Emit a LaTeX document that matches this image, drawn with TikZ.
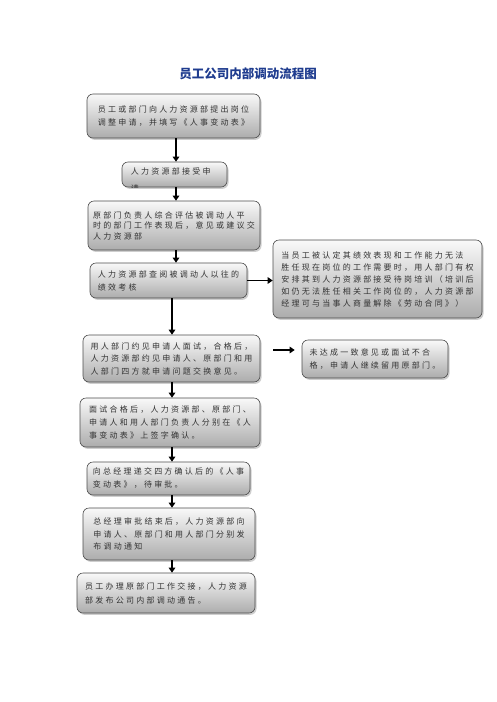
\documentclass[tikz,border=0pt]{standalone}
\usepackage{fontspec}
\newfontfamily\cjk[LetterSpace=28]{Noto Sans CJK SC}
\newfontfamily\cjktitle{Noto Sans CJK SC}
\usetikzlibrary{shadows,arrows.meta,calc}
\definecolor{titleblue}{HTML}{1F3C8F}
\definecolor{txtgray}{HTML}{333333}
\begin{document}
\begin{tikzpicture}[x=1pt,y=-1pt,
  box/.style={rounded corners=6pt, draw=gray!60!black, line width=0.6pt,
    top color=gray!5, bottom color=gray!65,
    drop shadow={shadow xshift=1.5pt,shadow yshift=-1.8pt,fill=gray!55,opacity=0.7},
    inner sep=0pt, align=left, font=\cjk\fontsize{8}{13}\selectfont, text=txtgray},
  arr/.style={line width=1.6pt, -{Triangle[width=6.5pt,length=5pt]}}]
\useasboundingbox (0,0) rectangle (496,702);

\node[font=\cjktitle\bfseries\fontsize{12.5}{14}\selectfont, text=titleblue] (title) at (248,74) {员工公司内部调动流程图};

\node[box, minimum width=173pt, minimum height=44pt] (b1) at (173.5,116)
  {员工或部门向人力资源部提出岗位\\调整申请，并填写《人事变动表》};

\node[box, minimum width=105pt, minimum height=25pt] (b2) at (174.5,174.5) {};
\begin{scope}
  \clip[rounded corners=6pt] (b2.south west) rectangle (b2.north east);
  \node[anchor=north west, inner sep=0pt, align=left, font=\cjk\fontsize{8}{17}\selectfont, text=txtgray] (b2t) at ($(b2.north west)+(9,6)$) {人力资源部接受申\\请};
\end{scope}

\node[box, minimum width=172pt, minimum height=49pt, font=\cjk\fontsize{8}{10.5}\selectfont] (b3) at (174,225.5)
  {原部门负责人综合评估被调动人平\\时的部门工作表现后，意见或建议交\\人力资源部};

\node[box, minimum width=157pt, minimum height=35pt] (b4) at (168.5,280.5)
  {人力资源部查阅被调动人以往的\\绩效考核};

\node[box, minimum width=209pt, minimum height=78pt, font=\cjk\fontsize{8}{12}\selectfont] (bR) at (377.5,279)
  {当员工被认定其绩效表现和工作能力无法\\胜任现在岗位的工作需要时，用人部门有权\\安排其到人力资源部接受待岗培训（培训后\\如仍无法胜任相关工作岗位的，人力资源部\\经理可与当事人商量解除《劳动合同》）};

\node[box, minimum width=177pt, minimum height=47pt, font=\cjk\fontsize{8}{12.5}\selectfont] (b5) at (171.5,358.5)
  {用人部门约见申请人面试，合格后，\\人力资源部约见申请人、原部门和用\\人部门四方就申请问题交换意见。};

\node[box, minimum width=146pt, minimum height=38pt] (b6) at (375,359)
  {未达成一致意见或面试不合\\格，申请人继续留用原部门。};

\node[box, minimum width=180pt, minimum height=49pt] (b7) at (170,422.5)
  {面试合格后，人力资源部、原部门、\\申请人和用人部门负责人分别在《人\\事变动表》上签字确认。};

\node[box, minimum width=163pt, minimum height=33pt] (b8) at (168.5,478.5)
  {向总经理递交四方确认后的《人事\\变动表》，待审批。};

\node[box, minimum width=172pt, minimum height=52pt, font=\cjk\fontsize{8}{12.5}\selectfont] (b9) at (169,534)
  {总经理审批结束后，人力资源部向\\申请人、原部门和用人部门分别发\\布调动通知};

\node[box, minimum width=178pt, minimum height=40pt, font=\cjk\fontsize{8}{14}\selectfont] (b10) at (166,593)
  {员工办理原部门工作交接，人力资源\\部发布公司内部调动通告。};

% connectors
\draw[arr] ([xshift=2.5pt]b1.south) -- ([xshift=2.5pt]b1.south |- b2.north);
\draw[arr] ([xshift=1.5pt]b2.south) -- ([xshift=1.5pt]b2.south |- b3.north);
\draw[arr] ([xshift=2pt]b3.south) -- ([xshift=2pt]b3.south |- b4.north);
\draw[arr] (b4.east) -- (b4.east -| bR.west);
\draw[arr] ([xshift=3.5pt]b4.south) -- ([xshift=3.5pt]b4.south |- b5.north);
\coordinate (h1) at ($(b5.east)+(13,-8.5)$);
\coordinate (h2) at ($(b6.west)+(-7,-9)$);
\draw[arr] (h1) -- (h1 -| h2);
\draw[arr] ([xshift=0.5pt]b5.south) -- ([xshift=0.5pt]b5.south |- b7.north);
\draw[arr] ([xshift=2pt]b7.south) -- ([xshift=2pt]b7.south |- b8.north);
\draw[arr] ([xshift=3.5pt]b8.south) -- ([xshift=3.5pt]b8.south |- b9.north);
\draw[arr] ([xshift=3pt]b9.south) -- ([xshift=3pt]b9.south |- b10.north);
\end{tikzpicture}
\end{document}
